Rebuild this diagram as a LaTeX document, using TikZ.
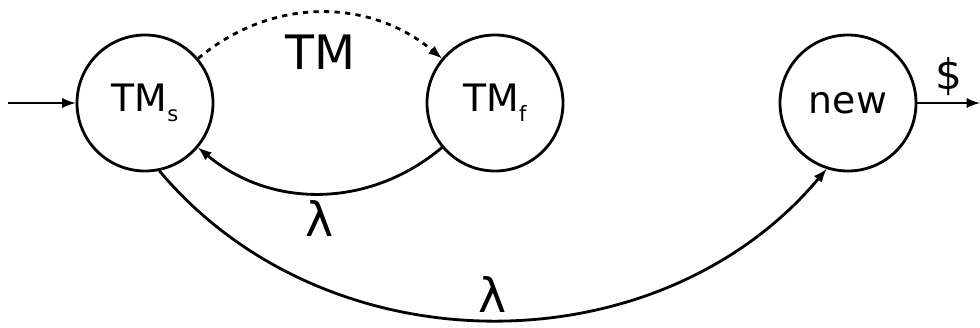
\documentclass[tikz,border=0pt]{standalone}
\usepackage{fontspec}
\setmainfont{DejaVu Sans}
\usepackage{tikz}

\begin{document}
\begin{tikzpicture}[tmstate/.style={shape=circle, draw, line width=1.6pt,
        minimum size=2.72cm, inner sep=0pt, font=\fontsize{21.5}{24}\selectfont},
        trans/.style={line width=1.6pt, ->, >=latex},
        lbl/.style={font=\fontsize{27}{30}\selectfont}]
      \def\sub#1{\raisebox{-5.5pt}{\fontsize{12}{12}\selectfont #1}}
      \useasboundingbox (0,0) rectangle (19.6,6.54);
      \node[tmstate,name=TMs] at (2.9,4.48) {TM\sub{s}};
      \node[tmstate,name=TMf] at (9.9,4.48) {TM\sub{f}};
      \node[tmstate,name=new] at (16.96,4.48) {new};
      \coordinate (start) at (0.16,4.48);
      \coordinate (stop) at (19.6,4.48);
      \draw[trans] (start) -- (TMs);
      \draw[trans] (new) -- (stop)
        node[midway,above,font=\fontsize{24}{26}\selectfont,name=dollar] {\$};
      \draw[trans,dashed] (TMs) to[out=40,in=140]
        node[midway,below=0.3cm,lbl,name=lblTM] {TM} (TMf);
      \draw[trans] (TMf) to[out=-140,in=-40]
        node[midway,below,lbl,name=lblA] {λ} (TMs);
      \draw[trans] (TMs.-78) to[out=-50,in=-130]
        node[midway,above,lbl,name=lblB] {λ} (new.-108);
    \end{tikzpicture}
\end{document}
